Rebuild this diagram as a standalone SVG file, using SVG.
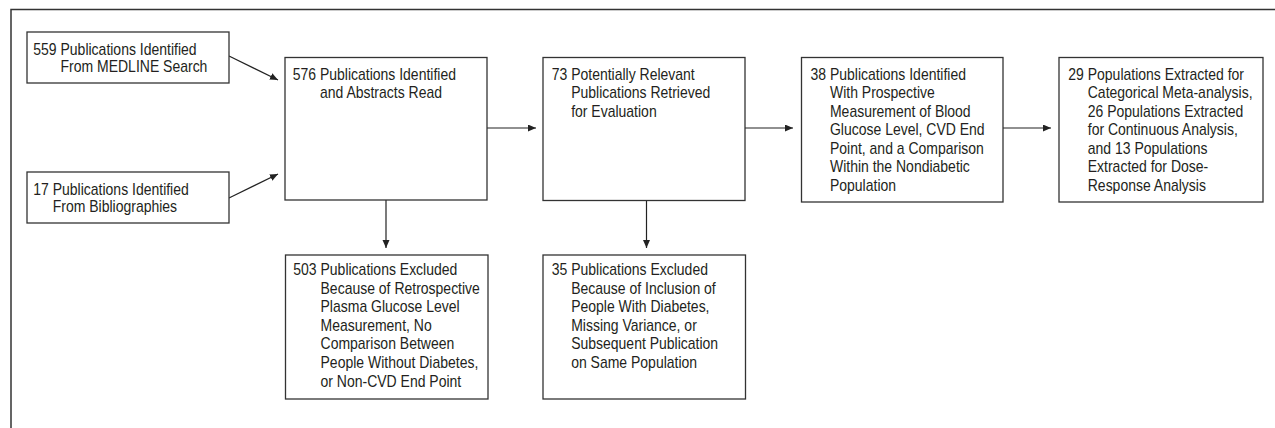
<svg xmlns="http://www.w3.org/2000/svg" width="1275" height="428" viewBox="0 0 1275 428">
<style>
.box{fill:#fff;stroke:#333;stroke-width:1.3}
.t{font-family:"Liberation Sans",Arial,sans-serif;font-size:16px;fill:#231f20}
.c{stroke:#222;stroke-width:1.2;fill:none}
.frame{stroke:#333;stroke-width:1.5;fill:none}
</style>
<defs>
<marker id="ah" markerUnits="userSpaceOnUse" markerWidth="9" markerHeight="8" refX="8" refY="3.5" orient="auto">
<path d="M0,0 L8,3.5 L0,7 z" fill="#222"/>
</marker>
</defs>
<rect width="1275" height="428" fill="#fff"/>
<path class="frame" d="M11,428 V9.5 H1275"/>

<g id="connectors">
<line class="c" x1="229" y1="56" x2="278" y2="80" marker-end="url(#ah)"/>
<line class="c" x1="229" y1="198" x2="278" y2="174" marker-end="url(#ah)"/>
<line class="c" x1="487" y1="128" x2="536" y2="128" marker-end="url(#ah)"/>
<line class="c" x1="745" y1="128" x2="793" y2="128" marker-end="url(#ah)"/>
<line class="c" x1="1003" y1="128" x2="1051" y2="128" marker-end="url(#ah)"/>
<line class="c" x1="386" y1="200" x2="386" y2="248" marker-end="url(#ah)"/>
<line class="c" x1="646.5" y1="200.5" x2="646.5" y2="248" marker-end="url(#ah)"/>
</g>

<g id="n559">
<rect class="box" x="27" y="32" width="202" height="51"/>
<text class="t" transform="translate(33.3,55) scale(0.875,1)"><tspan x="0" y="0">559 Publications Identified</tspan><tspan x="31.14" dy="17.5">From MEDLINE Search</tspan></text>
</g>

<g id="n17">
<rect class="box" x="27" y="172" width="202" height="51"/>
<text class="t" transform="translate(33.3,195) scale(0.875,1)"><tspan x="0" y="0">17 Publications Identified</tspan><tspan x="22.24" dy="17.5">From Bibliographies</tspan></text>
</g>

<g id="n576">
<rect class="box" x="285" y="57.5" width="202" height="142.5"/>
<text class="t" transform="translate(292.7,80) scale(0.875,1)"><tspan x="0" y="0">576 Publications Identified</tspan><tspan x="31.14" dy="18.5">and Abstracts Read</tspan></text>
</g>

<g id="n73">
<rect class="box" x="543" y="57.5" width="202" height="143"/>
<text class="t" transform="translate(551.7,80) scale(0.875,1)"><tspan x="0" y="0">73 Potentially Relevant</tspan><tspan x="22.24" dy="18.5">Publications Retrieved</tspan><tspan x="22.24" dy="18.5">for Evaluation</tspan></text>
</g>

<g id="n38">
<rect class="box" x="801.5" y="57.5" width="201.5" height="144.5"/>
<text class="t" transform="translate(810.5,80) scale(0.875,1)"><tspan x="0" y="0">38 Publications Identified</tspan><tspan x="22.24" dy="18.5">With Prospective</tspan><tspan x="22.24" dy="18.5">Measurement of Blood</tspan><tspan x="22.24" dy="18.5">Glucose Level, CVD End</tspan><tspan x="22.24" dy="18.5">Point, and a Comparison</tspan><tspan x="22.24" dy="18.5">Within the Nondiabetic</tspan><tspan x="22.24" dy="18.5">Population</tspan></text>
</g>

<g id="n29">
<rect class="box" x="1059" y="57.5" width="204" height="144.5"/>
<text class="t" transform="translate(1068.3,80) scale(0.875,1)"><tspan x="0" y="0">29 Populations Extracted for</tspan><tspan x="22.24" dy="18.5">Categorical Meta-analysis,</tspan><tspan x="22.24" dy="18.5">26 Populations Extracted</tspan><tspan x="22.24" dy="18.5">for Continuous Analysis,</tspan><tspan x="22.24" dy="18.5">and 13 Populations</tspan><tspan x="22.24" dy="18.5">Extracted for Dose-</tspan><tspan x="22.24" dy="18.5">Response Analysis</tspan></text>
</g>

<g id="n503">
<rect class="box" x="285.5" y="255" width="202.5" height="144"/>
<text class="t" transform="translate(293.3,275) scale(0.875,1)"><tspan x="0" y="0">503 Publications Excluded</tspan><tspan x="31.14" dy="18.6">Because of Retrospective</tspan><tspan x="31.14" dy="18.6">Plasma Glucose Level</tspan><tspan x="31.14" dy="18.6">Measurement, No</tspan><tspan x="31.14" dy="18.6">Comparison Between</tspan><tspan x="31.14" dy="18.6">People Without Diabetes,</tspan><tspan x="31.14" dy="18.6">or Non-CVD End Point</tspan></text>
</g>

<g id="n35">
<rect class="box" x="543" y="255" width="202.5" height="144"/>
<text class="t" transform="translate(551.7,275) scale(0.875,1)"><tspan x="0" y="0">35 Publications Excluded</tspan><tspan x="22.24" dy="18.6">Because of Inclusion of</tspan><tspan x="22.24" dy="18.6">People With Diabetes,</tspan><tspan x="22.24" dy="18.6">Missing Variance, or</tspan><tspan x="22.24" dy="18.6">Subsequent Publication</tspan><tspan x="22.24" dy="18.6">on Same Population</tspan></text>
</g>
</svg>
